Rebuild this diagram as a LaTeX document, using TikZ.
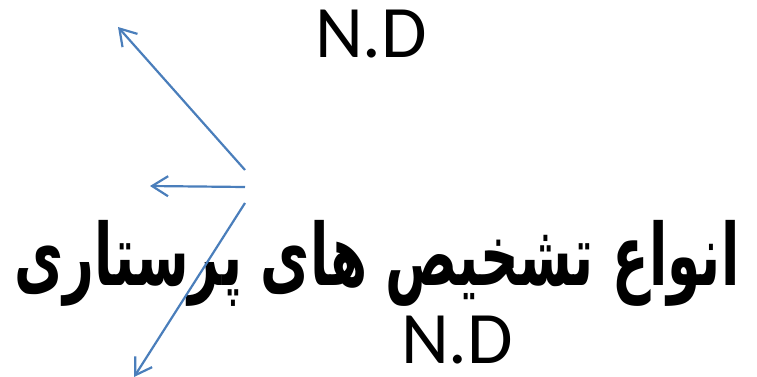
\documentclass[tikz,border=0pt]{standalone}
\usepackage{fontspec}
\usetikzlibrary{arrows.meta}
\TeXXeTstate=1
\newfontfamily\arabicfont[Script=Arabic]{DejaVu Sans}
\newfontfamily\labelfont{Carlito}
\definecolor{arrowblue}{HTML}{4A7EBB}
\tikzset{
  conn/.style={draw=arrowblue, line width=2.2pt, -{Straight Barb[length=16pt,width=20pt,line width=2.2pt]}},
  ndlabel/.style={font=\labelfont\fontsize{74}{74}\selectfont, inner sep=0pt, text=black, text depth=0pt, text height=46pt},
  title/.style={inner sep=0pt, text=black}
}
\begin{document}
\begin{tikzpicture}[x=1pt,y=-1pt]
\useasboundingbox (0,0) rectangle (757,377);
\node[ndlabel] (nd1) at (371,35) {N.D};
\node[ndlabel] (nd2) at (457,340) {N.D};
\node[title] (ttl) at (377,263) {\resizebox*{725pt}{86pt}{\arabicfont\bfseries\beginR انواع تشخیص های پرستاری\endR}};
\coordinate (s1) at (245,170);
\coordinate (e1) at (118,27);
\coordinate (s2) at (245,187);
\coordinate (e2) at (150,186);
\coordinate (s3) at (245,203);
\coordinate (e3) at (134,377);
\draw[conn] (s1) -- (e1);
\draw[conn] (s2) -- (e2);
\draw[conn] (s3) -- (e3);
\end{tikzpicture}
\end{document}
